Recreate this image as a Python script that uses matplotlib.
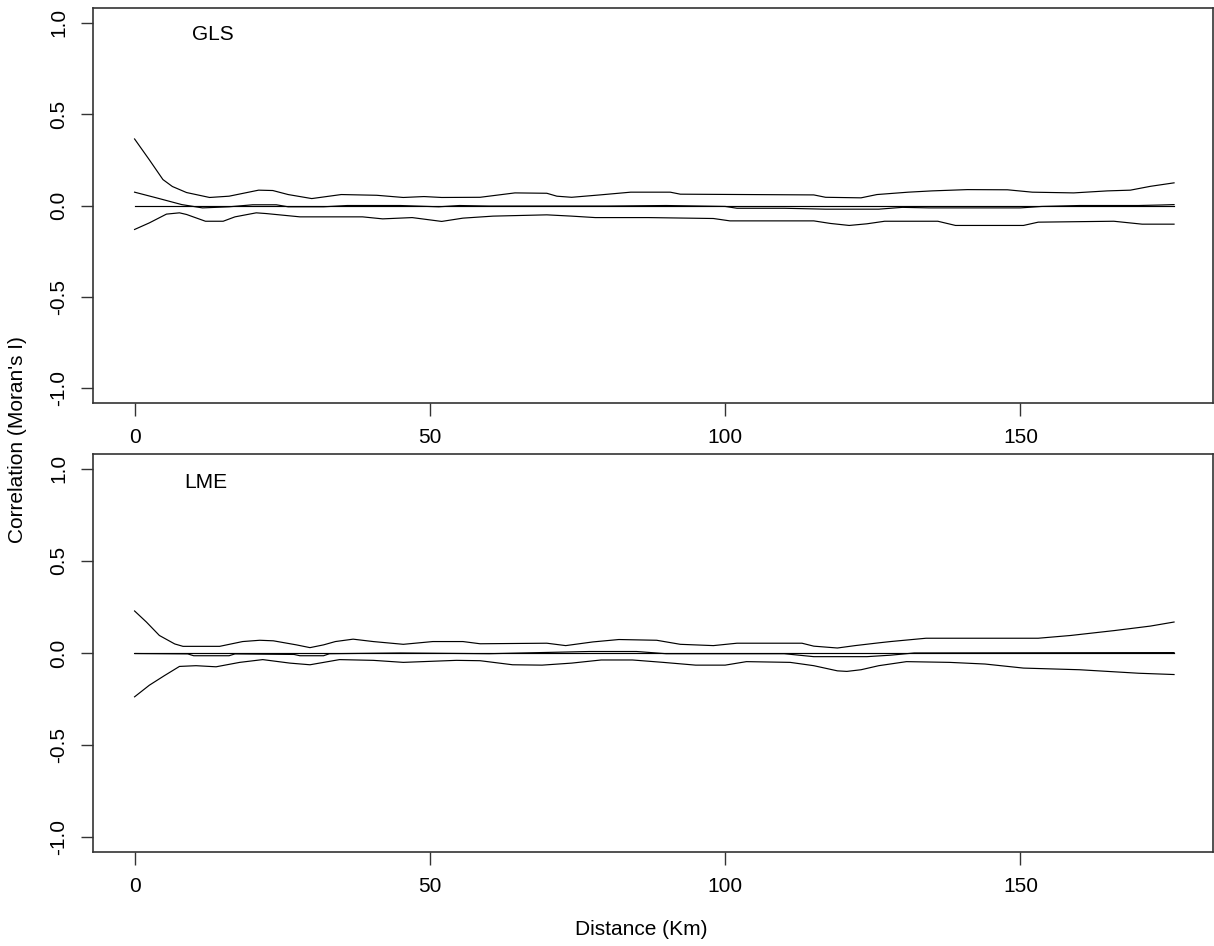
import matplotlib.pyplot as plt
import numpy as np

plt.rcParams['font.family'] = ['Liberation Sans', 'DejaVu Sans']

# GLS panel: upper envelope, lower envelope, estimate (distance in km, Moran's I)
gls_up_x = [0, 2.5, 4.8, 6.4, 8.8, 12.7, 16, 21, 23.4, 26, 30, 35, 41, 45.5, 49, 52,
            58.5, 64.4, 69.8, 71.5, 74, 78.8, 84, 90.7, 92.4, 115, 117, 123, 125.7,
            131, 135, 141, 147.8, 152, 159, 164.7, 168.6, 172, 176]
gls_up_y = [0.364, 0.25, 0.142, 0.104, 0.071, 0.044, 0.051, 0.084, 0.082, 0.06, 0.038,
            0.06, 0.056, 0.044, 0.049, 0.044, 0.045, 0.069, 0.067, 0.051, 0.045, 0.058,
            0.073, 0.073, 0.062, 0.058, 0.045, 0.042, 0.06, 0.073, 0.08, 0.087, 0.086,
            0.073, 0.069, 0.08, 0.084, 0.105, 0.124]
gls_lo_x = [0, 2.5, 5.4, 7.6, 8.8, 12, 15, 17, 20.6, 22.3, 28, 33, 38.6, 42, 47, 52,
            55.6, 60.7, 69.8, 74, 78, 87, 98, 100.8, 115, 117.8, 121, 124, 127, 136,
            139, 150.5, 153, 165.8, 170.6, 176]
gls_lo_y = [-0.131, -0.095, -0.047, -0.04, -0.049, -0.086, -0.086, -0.062, -0.04, -0.044,
            -0.062, -0.062, -0.062, -0.073, -0.066, -0.087, -0.069, -0.058, -0.051,
            -0.058, -0.066, -0.066, -0.071, -0.084, -0.084, -0.098, -0.109, -0.1,
            -0.086, -0.086, -0.109, -0.109, -0.091, -0.086, -0.102, -0.102]
gls_est_x = [0, 3.7, 8, 11.5, 16, 20, 24, 26, 32, 36, 45, 51.5, 55, 60, 70, 80, 90,
             100, 102, 110, 117, 121, 126, 130, 134.5, 140, 150, 153.6, 160, 170, 174, 176]
gls_est_y = [0.073, 0.042, 0.005, -0.013, -0.007, 0.004, 0.004, -0.007, -0.007, 0.0, 0.0,
             -0.007, 0.0, -0.003, -0.003, -0.003, 0.0, -0.005, -0.015, -0.015, -0.02,
             -0.02, -0.02, -0.01, -0.013, -0.013, -0.013, -0.005, 0.0, 0.0, 0.003, 0.005]

# LME panel
lme_up_x = [0, 2, 4.2, 6.8, 8.2, 14.4, 18.3, 21.2, 23.5, 27.4, 29.7, 32, 34, 37, 40.4,
            45.5, 50.5, 55.6, 58.5, 69.8, 73, 77.6, 82, 88.4, 92.4, 98, 102, 113, 115,
            119, 122, 126, 128, 134, 153, 158.5, 166, 172, 176]
lme_up_y = [0.228, 0.168, 0.095, 0.049, 0.036, 0.036, 0.062, 0.069, 0.066, 0.044, 0.029,
            0.044, 0.062, 0.075, 0.062, 0.047, 0.062, 0.062, 0.05, 0.053, 0.04, 0.06,
            0.073, 0.069, 0.047, 0.04, 0.053, 0.053, 0.037, 0.027, 0.04, 0.055, 0.062,
            0.08, 0.08, 0.095, 0.122, 0.146, 0.168]
lme_lo_x = [0, 2.5, 5, 7.6, 10.4, 13.8, 17.8, 21.7, 26.3, 29.7, 34.7, 40.4, 45.5, 54.5,
            58.5, 64, 69, 74, 79, 84.3, 89.5, 95, 100, 103.6, 111, 115, 119, 120.6,
            123, 126, 130.7, 138, 144, 150.5, 160, 170, 176]
lme_lo_y = [-0.238, -0.175, -0.124, -0.073, -0.069, -0.075, -0.051, -0.036, -0.055,
            -0.064, -0.036, -0.04, -0.051, -0.04, -0.042, -0.064, -0.066, -0.055, -0.038,
            -0.038, -0.051, -0.066, -0.066, -0.047, -0.051, -0.069, -0.097, -0.1, -0.091,
            -0.069, -0.047, -0.051, -0.06, -0.082, -0.091, -0.11, -0.117]
lme_est_x = [0, 9, 10, 16, 17, 27, 28, 32, 33, 45, 60, 77, 85, 90, 100, 110, 115, 124,
             128, 132, 176]
lme_est_y = [-0.003, -0.005, -0.015, -0.015, -0.005, -0.008, -0.015, -0.015, -0.004, 0.0,
             -0.004, 0.008, 0.008, -0.004, -0.004, -0.004, -0.02, -0.02, -0.012, 0.0, 0.002]

xmax = 176
yticks = [-1.0, -0.5, 0.0, 0.5, 1.0]
xticks = [0, 50, 100, 150]

panels = [
    ("GLS", gls_up_x, gls_up_y, gls_lo_x, gls_lo_y, gls_est_x, gls_est_y, (13.2, 0.937)),
    ("LME", lme_up_x, lme_up_y, lme_lo_x, lme_lo_y, lme_est_x, lme_est_y, (12.0, 0.923)),
]

fig = plt.figure(figsize=(12.14, 9.46), dpi=100)
boxes = [[0.0766, 0.574, 0.9226, 0.4175], [0.0766, 0.0994, 0.9226, 0.4207]]

for box, (name, ux, uy, lx, ly, ex, ey, lab) in zip(boxes, panels):
    ax = fig.add_axes(box)
    lw = 0.85
    ax.plot([0, xmax], [0, 0], color='black', lw=lw)
    ax.plot(ex, ey, color='black', lw=lw)
    ax.plot(ux, uy, color='black', lw=lw)
    ax.plot(lx, ly, color='black', lw=lw)
    ax.set_xlim(-7.04, 182.6)
    ax.set_ylim(-1.08, 1.08)
    ax.set_xticks(xticks)
    ax.set_xticklabels([str(t) for t in xticks])
    ax.set_yticks(yticks)
    ax.set_yticklabels(['%.1f' % t for t in yticks], rotation=90, va='center')
    ax.tick_params(direction='out', length=9, width=1.0, color='#333333',
                   labelsize=15, pad=9)
    for s in ax.spines.values():
        s.set_linewidth(1.2)
        s.set_color('#333333')
    ax.text(lab[0], lab[1], name, fontsize=15, ha='center', va='center')

fig.text(18 / 1214, 1 - 440 / 946, "Correlation (Moran's I)", rotation=90,
         fontsize=15, ha='center', va='center')
fig.text(641 / 1214, 1 - 929 / 946, "Distance (Km)", fontsize=15,
         ha='center', va='center')

fig.savefig('out.png', dpi=100, facecolor='white')
